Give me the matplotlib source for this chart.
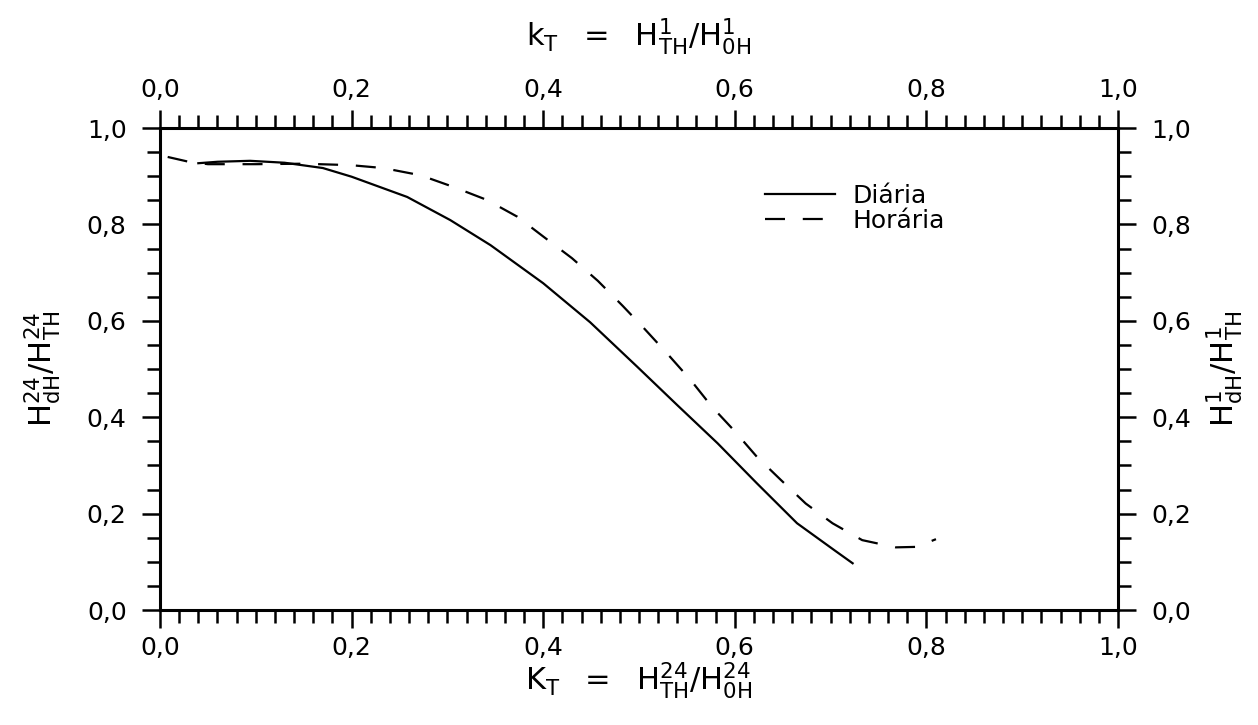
import matplotlib
matplotlib.use("Agg")
import matplotlib.pyplot as plt
from matplotlib.ticker import MultipleLocator, FuncFormatter

plt.rcParams['font.family'] = ['DejaVu Sans']
plt.rcParams['mathtext.fontset'] = 'dejavusans'

# Diária (solid) curve
kt_diaria = [0.04, 0.06, 0.094, 0.13, 0.17, 0.20, 0.258, 0.303, 0.345, 0.40,
             0.449, 0.498, 0.540, 0.582, 0.623, 0.665, 0.704, 0.723]
fd_diaria = [0.927, 0.930, 0.932, 0.928, 0.917, 0.899, 0.857, 0.809, 0.757, 0.678,
             0.597, 0.505, 0.425, 0.346, 0.263, 0.180, 0.124, 0.097]

# Horária (dashed) curve
kt_horaria = [0.008, 0.03, 0.05, 0.10, 0.15, 0.199, 0.233, 0.272, 0.306, 0.341,
              0.373, 0.400, 0.430, 0.457, 0.483, 0.505, 0.529, 0.554, 0.576, 0.599,
              0.623, 0.648, 0.674, 0.702, 0.733, 0.768, 0.790, 0.810]
fd_horaria = [0.940, 0.930, 0.925, 0.925, 0.926, 0.923, 0.917, 0.902, 0.878, 0.851,
              0.816, 0.775, 0.730, 0.683, 0.631, 0.585, 0.533, 0.477, 0.422, 0.373,
              0.318, 0.270, 0.221, 0.180, 0.145, 0.130, 0.131, 0.147]

series_labels = ['Diária', 'Horária']

xlabel_bottom = r'$\mathrm{K_T}\ \ =\ \ \mathrm{H^{24}_{TH}/H^{24}_{0H}}$'
xlabel_top = r'$\mathrm{k_T}\ \ =\ \ \mathrm{H^{1}_{TH}/H^{1}_{0H}}$'
ylabel_left = r'$\mathrm{H^{24}_{dH}/H^{24}_{TH}}$'
ylabel_right = r'$\mathrm{H^{1}_{dH}/H^{1}_{TH}}$'


def comma(v, pos):
    return f'{v:.1f}'.replace('.', ',')


fig = plt.figure(figsize=(12.58, 7.25), dpi=100)
ax = fig.add_axes([0.1272, 0.1586, 0.7615, 0.6648])

ax.plot(kt_diaria, fd_diaria, color='black', lw=1.6, label=series_labels[0])
ax.plot(kt_horaria, fd_horaria, color='black', lw=1.6, dashes=(9, 8),
        label=series_labels[1])

ax.set_xlim(0, 1.0)
ax.set_ylim(0, 1.0)

# same scale on all four sides, so just mirror the ticks
ax.xaxis.set_major_locator(MultipleLocator(0.2))
ax.xaxis.set_minor_locator(MultipleLocator(0.02))
ax.xaxis.set_major_formatter(FuncFormatter(comma))
ax.yaxis.set_major_locator(MultipleLocator(0.2))
ax.yaxis.set_minor_locator(MultipleLocator(0.05))
ax.yaxis.set_major_formatter(FuncFormatter(comma))

ax.tick_params(which='both', direction='out', top=True, right=True,
               labeltop=True, labelright=True, width=1.8)
ax.tick_params(which='major', length=13, labelsize=18)
ax.tick_params(which='minor', length=9.5)
ax.tick_params(axis='x', which='major', pad=6)
ax.tick_params(axis='y', which='major', pad=11)
for s in ax.spines.values():
    s.set_linewidth(2.2)

ax.set_xlabel(xlabel_bottom, fontsize=22)
ax.xaxis.set_label_coords(0.5, -0.104)
ax.set_ylabel(ylabel_left, fontsize=22)
ax.yaxis.set_label_coords(-0.101, 0.5)

# top and right titles placed in the axes frame
ax.text(0.5, 1.147, xlabel_top, transform=ax.transAxes, fontsize=22,
        ha='center', va='bottom')
ax.text(1.09, 0.5, ylabel_right, transform=ax.transAxes, fontsize=22,
        rotation=90, ha='left', va='center')

ax.legend(loc='upper left', bbox_to_anchor=(0.632, 0.884), frameon=False,
          fontsize=18, handlelength=2.8, handletextpad=0.7, labelspacing=0.05,
          borderpad=0, borderaxespad=0)

fig.savefig('out.png', dpi=100)
